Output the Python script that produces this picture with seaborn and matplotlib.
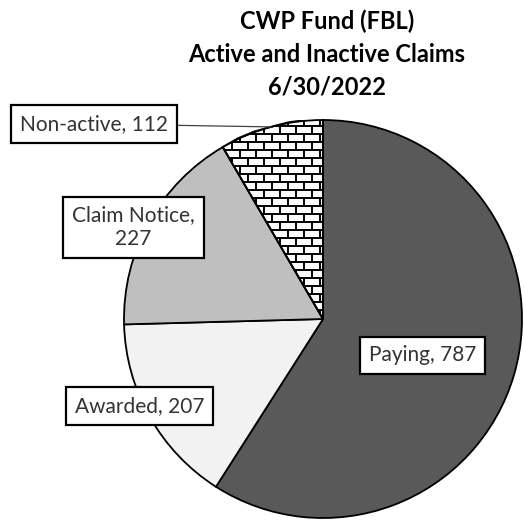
import numpy as np
import matplotlib
matplotlib.use("Agg")
import matplotlib.pyplot as plt
import seaborn as sns
from matplotlib.collections import LineCollection

# data
categories = ["Paying", "Awarded", "Claim Notice", "Non-active"]
claims = [787, 207, 227, 112]
label_text = ["Paying, 787", "Awarded, 207", "Claim Notice,\n227", "Non-active, 112"]
title = "CWP Fund (FBL)\nActive and Inactive Claims\n6/30/2022"

sns.set_theme(style="white")
plt.rcParams["font.family"] = ["Lato", "DejaVu Sans"]

colors = ["#595959", "#f2f2f2", "#bfbfbf", "#ffffff"]

fig = plt.figure(figsize=(5.24, 5.2), dpi=100)
# pie centre at (323, 319) px, radius ~199 px
cx, cy, r = 323, 319, 199
ax = fig.add_axes([(cx - r) / 524, (520 - cy - r) / 520, 2 * r / 524, 2 * r / 520])

wedges, _ = ax.pie(claims, colors=colors, startangle=90, counterclock=False,
                   wedgeprops=dict(edgecolor="black", linewidth=1.3))
ax.set_xlim(-1, 1)
ax.set_ylim(-1, 1)
ax.set_aspect("equal")
ax.axis("off")

# brick texture for the non-active slice
brick = wedges[3]
row_h = 8 / r
brick_w = 16 / r
segs = []
ys = np.arange(-1, 1.01, row_h)
for i, y in enumerate(ys):
    segs.append([(-1.1, y), (1.1, y)])
    off = 0 if i % 2 == 0 else brick_w / 2
    for x in np.arange(-1.1 + off, 1.1, brick_w):
        segs.append([(x, y), (x, y + row_h)])
lc = LineCollection(segs, colors="black", linewidths=1.4, zorder=brick.get_zorder() + 0.1)
ax.add_collection(lc)
lc.set_clip_path(brick)
brick_edge = plt.Polygon(brick.get_path().vertices, closed=True, fill=False, edgecolor="black",
                         linewidth=1.3, transform=ax.transData, zorder=brick.get_zorder() + 0.2)
ax.add_patch(brick_edge)

# label positions (data units)
label_pos = [(0.50, -0.183), (-0.922, -0.437), (-0.952, 0.46), (-1.151, 0.98)]
box = dict(boxstyle="square,pad=0.42", facecolor="white", edgecolor="black", linewidth=1.6)
fs = 15
for i, (w, txt) in enumerate(zip(wedges, label_text)):
    if categories[i] == "Non-active":
        mid = np.deg2rad((w.theta1 + w.theta2) / 2)
        ax.annotate(txt, xy=(np.cos(mid), np.sin(mid)), xytext=label_pos[i],
                    ha="center", va="center", fontsize=fs, color="#333333",
                    bbox=box, annotation_clip=False,
                    arrowprops=dict(arrowstyle="-", color="#404040", lw=0.9,
                                    shrinkA=0, shrinkB=0))
    else:
        ax.text(*label_pos[i], txt, ha="center", va="center", fontsize=fs,
                color="#333333", bbox=box, linespacing=1.25, zorder=5)

fig.text(327 / 524, 1 - 54 / 520, title, ha="center", va="center", fontsize=17,
         fontweight="bold", color="black", linespacing=1.5)

fig.savefig("out.png", dpi=100)
